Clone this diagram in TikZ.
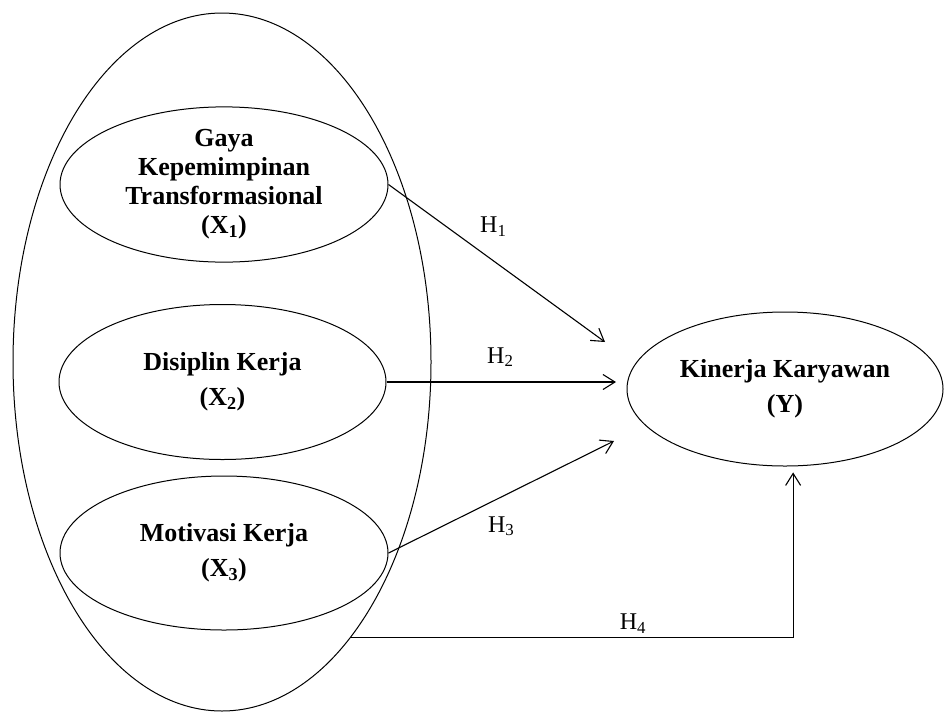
\documentclass[tikz,border=0pt]{standalone}
\usepackage{fontspec}
\setmainfont{Liberation Serif}
\usetikzlibrary{shapes.geometric,arrows.meta}
\begin{document}
\begin{tikzpicture}[
        x=1pt, y=-1pt,
        outer/.style={draw, ellipse, line width=1pt, minimum width=418pt, minimum height=698pt},
        construct/.style={draw, ellipse, line width=1pt, inner sep=0pt, align=center, font=\fontsize{26}{35}\selectfont\bfseries},
        flow/.style={-{Straight Barb[length=12pt,width=15pt]}, line width=1.1pt},
        hlabel/.style={anchor=base, inner sep=0pt, font=\fontsize{24}{26}\selectfont}
      ]
      \useasboundingbox (0,0) rectangle (944,713);
      \node[outer] (group) at (222,362) {};
      \node[construct, minimum width=328pt, minimum height=155pt, font=\fontsize{26}{29}\selectfont\bfseries] (gaya) at (224,184.5) {Gaya\\Kepemimpinan\\Transformasional\\(X\textsubscript{1})};
      \node[construct, minimum width=327pt, minimum height=155pt] (disiplin) at (222.5,382) {Disiplin Kerja\\(X\textsubscript{2})};
      \node[construct, minimum width=328pt, minimum height=154pt] (motivasi) at (224,553) {Motivasi Kerja\\(X\textsubscript{3})};
      \node[construct, minimum width=316pt, minimum height=154pt] (kinerja) at (785,389) {Kinerja Karyawan\\(Y)};
      \coordinate (h1tip) at (605,342);
      \coordinate (h2tip) at (616,382);
      \coordinate (h3tip) at (614,441);

      \draw[flow] (gaya.east) -- node[hlabel, pos=0.484, yshift=28pt] {H\textsubscript{1}} (h1tip);
      \draw[flow] (disiplin.east) -- node[hlabel, pos=0.496, yshift=19pt] {H\textsubscript{2}} (h2tip);
      \draw[flow] (motivasi.east) -- node[hlabel, pos=0.5, yshift=-35pt] {H\textsubscript{3}} (h3tip);
      \draw[flow, shorten >=6pt] (group.-65) -| node[hlabel, pos=0.319, yshift=8pt] {H\textsubscript{4}} (kinerja.-84);
    \end{tikzpicture}
\end{document}
